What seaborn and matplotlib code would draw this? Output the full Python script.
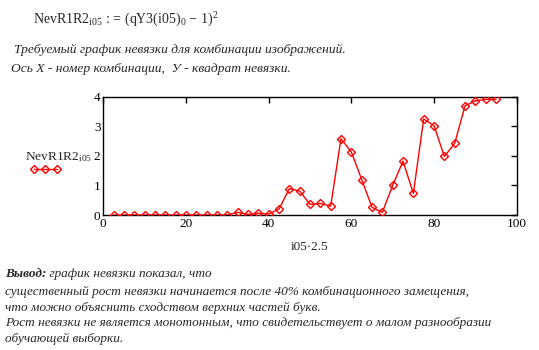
import matplotlib
matplotlib.use("Agg")
import matplotlib.pyplot as plt
import seaborn as sns
import pandas as pd
from matplotlib.lines import Line2D

# ---- data ----
i05 = list(range(1, 39))
nevr1r2 = [0, 0, 0, 0, 0, 0, 0, 0, 0, 0, 0, 0,
           0.09, 0.02, 0.06, 0.03, 0.20, 0.89, 0.81, 0.36, 0.39, 0.30,
           2.58, 2.13, 1.20, 0.26, 0.09, 1.00, 1.82, 0.73, 3.25, 3.02,
           1.98, 2.42, 3.69, 3.86, 3.91, 3.91]
x_ticks = [0, 20, 40, 60, 80, 100]
y_ticks = [0, 1, 2, 3, 4]

formula = r"$\mathrm{NevR1R2}_{\mathrm{i05}}\,:=\,\left(\mathrm{qY3(i05)}_{0}\,-\,1\right)^{2}$"
intro = ["Требуемый график невязки для комбинации изображений.",
         "Ось X - номер комбинации,  У - квадрат невязки."]
concl_head = "Вывод:"
concl_first = " график невязки показал, что"
concl_lines = ["существенный рост невязки начинается после 40% комбинационного замещения,",
               "что можно объяснить сходством верхних частей букв.",
               "Рост невязки не является монотонным, что свидетельствует о малом разнообразии",
               "обучающей выборки."]

df = pd.DataFrame({"x": [v * 2.5 for v in i05], "y": nevr1r2})

sns.set_style("white")
plt.rcParams['font.family'] = ['Liberation Serif', 'DejaVu Serif']
plt.rcParams['mathtext.fontset'] = 'custom'
plt.rcParams['mathtext.rm'] = 'Liberation Serif'
plt.rcParams['mathtext.it'] = 'Liberation Serif:italic'

W, H = 539, 350
fig = plt.figure(figsize=(W / 100, H / 100), dpi=100)
ax = fig.add_axes([103.3 / W, 1 - 215 / H, (516.7 - 103.3) / W, (215 - 96.7) / H])

sns.lineplot(data=df, x="x", y="y", ax=ax, color="red", lw=1.0,
             marker="D", markersize=4.5, markerfacecolor="none",
             markeredgecolor="red", markeredgewidth=1.0, zorder=5)

ax.set_xlim(0, 100)
ax.set_ylim(0, 4)
ax.set_xticks(x_ticks)
ax.set_yticks(y_ticks)
ax.tick_params(direction="in", length=4, width=1, top=True, right=True,
               labelsize=9.5, colors="black", pad=2)
for s in ax.spines.values():
    s.set_color("black")
    s.set_linewidth(1)
    s.set_visible(True)

ax.set_xlabel("i05·2.5", fontsize=9.5, labelpad=8)
ax.set_ylabel(r"$\mathrm{NevR1R2}_{\mathrm{i05}}$", fontsize=9.6, rotation=0,
              ha="right", va="center")
ax.yaxis.set_label_coords(-0.028, 0.49)

leg_handle = Line2D([0], [0], color="red", lw=1, marker="D", markersize=4.5,
                    markerfacecolor="none", markeredgecolor="red")
ax.legend(handles=[leg_handle], labels=[""], numpoints=3, frameon=False,
          handlelength=2.2, loc="center", bbox_to_anchor=(-0.14, 0.38),
          borderaxespad=0, borderpad=0, handletextpad=0)

fig.text(33 / W, 1 - 20 / H, formula, fontsize=10, va="center", ha="left")
fig.text(14 / W, 1 - 50 / H, intro[0], fontsize=9.7, style="italic", va="center")
fig.text(11 / W, 1 - 69 / H, intro[1], fontsize=9.7, style="italic", va="center")

t = fig.text(5 / W, 1 - 274 / H, concl_head, fontsize=9.5, style="italic",
             weight="bold", va="center")
fig.canvas.draw()
bb = t.get_window_extent()
fig.text(bb.x1 / W, 1 - 274 / H, concl_first, fontsize=9.5, style="italic", va="center")
ys = [292, 308, 323, 339]
for yy, line in zip(ys, concl_lines):
    fig.text(5 / W, 1 - yy / H, line, fontsize=9.5, style="italic", va="center")

fig.savefig("out.png", dpi=100)
